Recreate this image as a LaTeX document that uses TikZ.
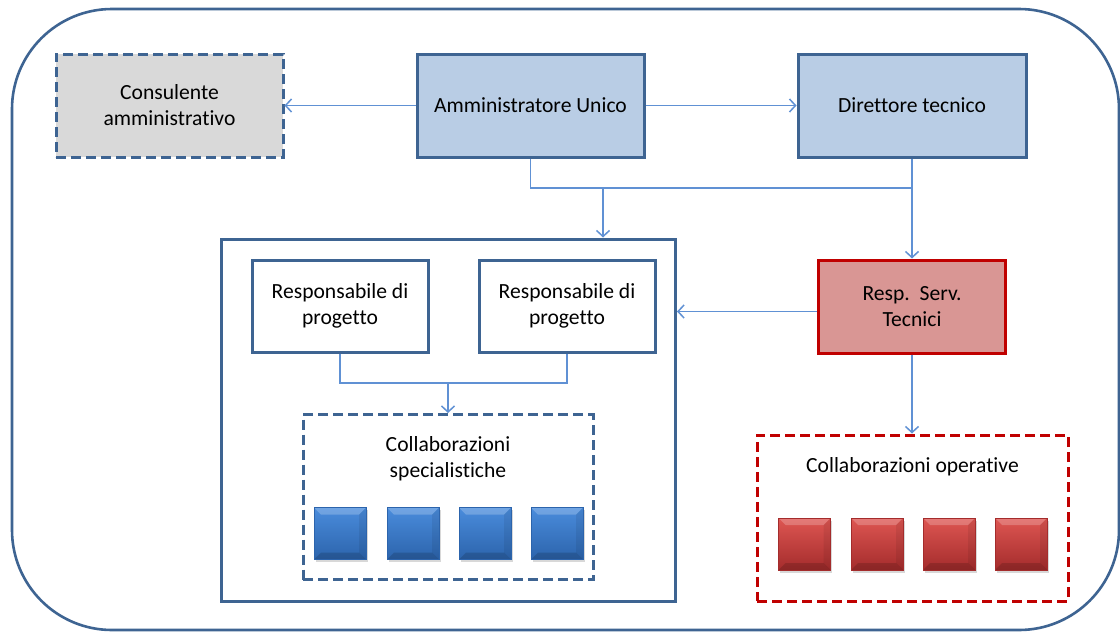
\documentclass[tikz,border=0pt]{standalone}
\usepackage{fontspec}
\setmainfont[Ligatures=NoCommon]{Carlito}
\usetikzlibrary{arrows.meta,shadows}
\definecolor{dblue}{RGB}{62,100,146}
\definecolor{cblue}{RGB}{96,145,212}
\definecolor{lblue}{RGB}{185,205,229}
\definecolor{lgray}{RGB}{217,217,217}
\definecolor{pinkf}{RGB}{217,150,148}
\definecolor{dred}{RGB}{192,0,0}
\definecolor{sqbT}{RGB}{74,140,220}
\definecolor{sqbB}{RGB}{44,100,172}
\definecolor{sqrT}{RGB}{222,86,82}
\definecolor{sqrB}{RGB}{164,44,44}
\tikzset{
  box/.style={draw=dblue, line width=3pt, inner sep=2pt, align=center, font=\fontsize{21.6}{26}\selectfont},
  conn/.style={draw=cblue, line width=1.5pt, -{Straight Barb[length=6pt,width=13pt,line width=1.5pt]}},
  cline/.style={draw=cblue, line width=1.5pt},
  dashbox/.style={dash pattern=on 10pt off 5pt},
  sq/.style={minimum size=52pt, inner sep=0pt, line width=0.4pt,
    drop shadow={shadow xshift=1.5pt, shadow yshift=-2.5pt, opacity=0.3},
    path picture={
      \fill[white, opacity=0.22] (path picture bounding box.north west) -- (path picture bounding box.north east)
        -- ([xshift=-7pt,yshift=-7pt]path picture bounding box.north east) -- ([xshift=7pt,yshift=-7pt]path picture bounding box.north west) -- cycle;
      \fill[black, opacity=0.15] (path picture bounding box.south west) -- (path picture bounding box.south east)
        -- ([xshift=-7pt,yshift=7pt]path picture bounding box.south east) -- ([xshift=7pt,yshift=7pt]path picture bounding box.south west) -- cycle;
      \fill[black, opacity=0.07] (path picture bounding box.south east) -- (path picture bounding box.north east)
        -- ([xshift=-7pt,yshift=-7pt]path picture bounding box.north east) -- ([xshift=-7pt,yshift=7pt]path picture bounding box.south east) -- cycle;
    }},
  bsq/.style={sq, top color=sqbT, bottom color=sqbB, draw=sqbB},
  rsq/.style={sq, top color=sqrT, bottom color=sqrB, draw=sqrB},
  txt/.style={align=center, font=\fontsize{21.6}{26}\selectfont}
}
\begin{document}
\begin{tikzpicture}[x=1pt,y=-1pt]
\useasboundingbox (0,0) rectangle (1120,632);
\fill[white] (0,0) rectangle (1120,632);
\draw[dblue, line width=2.6pt, rounded corners=100pt] (12,9) rectangle (1119,630);

% top row
\node[box, dashbox, fill=lgray, minimum width=227pt, minimum height=103pt] (cons) at (169.5,105.5) {Consulente\\amministrativo};
\node[box, fill=lblue, minimum width=227pt, minimum height=103pt] (admin) at (530.5,105.5) {Amministratore Unico};
\node[box, fill=lblue, minimum width=228pt, minimum height=103pt] (dir) at (912,105.5) {Direttore tecnico};

% big container
\node[box, fill=white, minimum width=454pt, minimum height=362pt] (big) at (448.5,420) {};
\node[box, fill=white, minimum width=176pt, minimum height=92pt] (rp1) at (340,306) {Responsabile di\\progetto};
\node[box, fill=white, minimum width=176pt, minimum height=92pt] (rp2) at (567,306) {Responsabile di\\progetto};
\node[box, dashbox, fill=white, minimum width=290pt, minimum height=165pt] (spec) at (448,497) {};
\node[txt] (spectext) at (448,459) {Collaborazioni\\specialistiche};
\node[bsq] (b1) at (340,533.5) {};
\node[bsq] (b2) at (413,533.5) {};
\node[bsq] (b3) at (485,533.5) {};
\node[bsq] (b4) at (557,533.5) {};

% right column
\node[box, draw=dred, fill=pinkf, minimum width=187pt, minimum height=93pt] (rst) at (912,306.5) {Resp.~~Serv.\\Tecnici};
\node[box, dashbox, draw=dred, fill=white, minimum width=311pt, minimum height=166pt] (oper) at (912.5,518) {};
\node[txt, anchor=base] (opertext) at (912.5,472) {Collaborazioni operative};
\node[rsq] (r1) at (804.5,544) {};
\node[rsq] (r2) at (877,544) {};
\node[rsq] (r3) at (949,544) {};
\node[rsq] (r4) at (1021,544) {};

% connectors
\coordinate (jr) at (912,188);
\coordinate (jm) at (603,188);
\coordinate (jp) at (448,383);
\draw[conn] (admin.west) -- (cons.east);
\draw[conn] (admin.east) -- (dir.west);
\draw[cline] (admin.south) |- (jr);
\draw[conn] (dir.south) -- (rst.north);
\draw[conn] (jm) -- (jm |- big.north);
\draw[conn] ([yshift=-5pt]rst.west) -- ([yshift=-5pt]rst.west -| big.east);
\draw[conn] (rst.south) -- (rst.south |- oper.north);
\draw[cline] (rp1.south) |- (jp) -| (rp2.south);
\draw[conn] (jp) -- (spec.north);
\end{tikzpicture}
\end{document}
